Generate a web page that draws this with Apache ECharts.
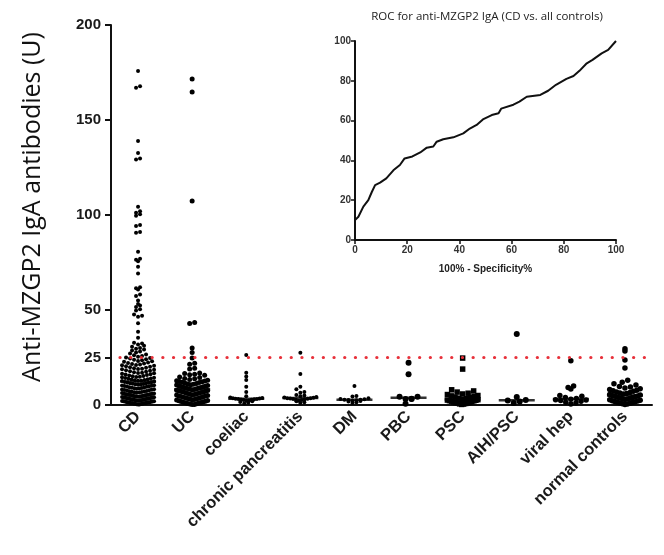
<!DOCTYPE html>
<html>
<head>
<meta charset="utf-8">
<title>Anti-MZGP2 IgA</title>
<script src="https://cdn.jsdelivr.net/npm/echarts@6.0.0/dist/echarts.min.js"></script>
<style>
    html, body { margin: 0; padding: 0; background: #fff; }
    #chart1 { width: 664px; height: 555px; }
</style>
</head>
<body>
<div id="chart1"></div>
<script type="text/javascript">
    // groups on the x axis
    var categories = ['CD', 'UC', 'coeliac', 'chronic pancreatitis', 'DM', 'PBC', 'PSC', 'AIH/PSC', 'viral hep', 'normal controls'];

    // antibody values (U), one array per group
    var cdValues = [175.8, 167.8, 167.0, 139.0, 132.6, 129.8, 129.2,
        104.4, 102.0, 101.2, 100.4, 99.6, 94.7, 94.2, 91.0, 90.6,
        80.7, 77.0, 76.4, 75.6, 72.8, 69.2,
        62.0, 61.4, 60.8, 58.2, 57.4, 55.0, 53.2, 52.4, 51.6, 50.4, 49.8, 47.6, 47.0, 46.4, 43.0, 38.6, 35.4,
        32.8, 32.4, 31.9, 31.2, 30.6, 30.0, 29.6,
        29.2, 28.7, 28.2, 27.6, 27.1, 26.6, 26.2, 25.8, 25.4,
        25.0, 24.8, 24.5, 24.1, 23.8, 23.5, 23.2, 23.0, 22.7, 22.4, 22.1, 21.8, 21.6, 21.3, 21.1,
        20.9, 20.6, 20.4, 20.1, 19.9, 19.6, 19.4, 19.1, 19.0, 18.8, 18.5, 18.3, 18.0, 17.8, 17.5, 17.3, 17.0, 16.9,
        16.7, 16.5, 16.2, 16.0, 15.8, 15.5, 15.3, 15.1, 14.9, 14.8,
        14.6, 14.4, 14.2, 14.0, 13.8, 13.6, 13.4, 13.2, 13.0, 12.8, 12.7,
        12.6, 12.4, 12.1, 12.0, 11.9, 11.7, 11.5, 11.4, 11.2, 11.0, 10.9, 10.8, 10.6, 10.4, 10.3, 10.1, 10.0, 9.9,
        9.7, 9.6, 9.4, 9.2, 9.1, 9.0, 8.8, 8.7, 8.5, 8.3, 8.2, 8.0, 7.9, 7.8, 7.6, 7.4, 7.3, 7.1, 7.0, 6.9,
        6.7, 6.6, 6.4, 6.3, 6.1, 6.0, 5.9, 5.8, 5.8, 5.7,
        5.6, 5.5, 5.4, 5.3, 5.2, 5.2, 5.1, 5.0, 4.9, 4.8, 4.7, 4.6, 4.6, 4.5, 4.4, 4.3, 4.2, 4.1, 4.0, 4.0,
        3.9, 3.8, 3.7, 3.6, 3.5, 3.5, 3.4, 3.3, 3.2, 3.1, 3.0, 3.0, 2.9, 2.8, 2.7, 2.6, 2.5, 2.5, 2.4, 2.3,
        2.2, 2.1, 2.0, 2.0, 1.9, 1.8, 1.7, 1.6, 1.5, 1.5, 1.4, 1.3, 1.2, 1.1, 1.0, 1.0, 0.9, 0.8, 0.7, 0.6,
        0.5, 0.4, 0.3, 0.2];
    var ucValues = [171.6, 164.7, 107.4, 43.4, 42.9, 30.0, 27.6, 24.8, 22.0, 21.4, 19.4, 18.9,
        16.9, 16.6, 16.2, 15.9, 15.6, 14.8, 14.5, 14.0, 13.8, 13.4, 13.0,
        12.8, 12.6, 12.4, 12.2, 12.0, 11.8, 11.5, 11.3, 11.1, 10.9, 10.7,
        10.5, 10.3, 10.1, 9.9, 9.8, 9.6, 9.4, 9.2, 9.0, 8.9, 8.7, 8.5, 8.3, 8.2, 8.0, 7.8, 7.6, 7.5, 7.3, 7.1,
        6.9, 6.8, 6.6, 6.4, 6.2, 6.1, 5.9, 5.7, 5.5, 5.4, 5.2, 5.0, 4.8, 4.7, 4.5, 4.3, 4.1, 4.0, 3.8, 3.6,
        3.4, 3.3, 3.1, 2.9, 2.7, 2.6, 2.4, 2.2, 2.0, 1.9, 1.7, 1.5, 1.3, 1.2, 1.0, 0.8, 0.6, 0.5, 0.3, 0.2];
    var coeliacValues = [26.3, 17.0, 15.0, 13.2, 9.6, 6.8, 4.6, 4.0, 3.7, 3.5, 3.4, 3.3, 3.2, 3.1, 3.0, 2.9,
        2.8, 2.6, 2.4, 2.2, 2.0, 1.6, 1.2, 0.8];
    var pancreatitisValues = [27.5, 16.3, 9.6, 8.3, 6.8, 6.5, 5.3, 5.0, 4.6, 4.2, 4.0, 3.8, 3.6, 3.5, 3.4, 3.3,
        3.2, 3.0, 2.8, 2.6, 2.3, 2.0, 1.5, 1.0];
    var dmValues = [10.0, 4.8, 4.5, 3.6, 3.2, 3.0, 2.8, 2.7, 2.6, 2.5, 2.3, 2.1, 1.8, 1.4, 1.0];
    var pbcValues = [22.3, 16.2, 4.4, 4.3, 3.3, 3.2, 3.1, 0.6];
    var pscValues = [24.7, 18.9, 8.0, 7.4, 6.8, 6.2, 5.8, 5.5, 5.0, 4.8, 4.5, 4.2, 4.0, 3.6, 3.3, 3.0,
        2.8, 2.6, 2.5, 2.3, 2.2, 2.0, 1.8, 1.6, 1.4, 1.2, 1.1, 1.0, 0.8, 0.6, 0.5, 0.3];
    var aihValues = [37.4, 4.2, 2.6, 2.4, 1.8, 1.0];
    var viralValues = [23.3, 10.0, 9.2, 8.4, 5.0, 4.6, 4.0, 3.4, 3.0, 2.8, 2.6, 2.4, 2.0, 1.5, 1.0, 0.5];
    var normalValues = [29.6, 28.4, 23.7, 19.5, 13.0, 12.0, 11.2, 10.5, 9.8, 9.5, 9.0, 8.6, 8.2, 7.8, 7.5, 7.2,
        6.9, 6.6, 6.3, 6.0, 5.8, 5.5, 5.2, 5.0, 4.8, 4.6, 4.3, 4.1, 3.9, 3.7, 3.5, 3.3, 3.1, 2.9, 2.7, 2.5,
        2.3, 2.1, 1.9, 1.7, 1.5, 1.3, 1.1, 0.9, 0.7, 0.5, 0.3];

    var groupValues = [cdValues, ucValues, coeliacValues, pancreatitisValues, dmValues,
        pbcValues, pscValues, aihValues, viralValues, normalValues];

    var yTicks = [0, 25, 50, 100, 150, 200];
    var cutoff = 25;

    // ROC curve (inset)
    var rocX = [0, 0, 0.3, 1.3, 3.2, 5.1, 6.4, 7.7, 9.6, 12, 14.7, 17.2, 19, 22, 25, 27.5, 30, 31.3, 33.8,
        37.7, 41.5, 44, 46.6, 49, 52.4, 55, 56, 60.7, 63, 65.8, 71, 74, 77, 81, 83.7, 86, 88.8, 91, 94.5, 97, 100];
    var rocY = [0, 10, 10.8, 11.7, 16.8, 20, 24, 27.6, 28.8, 31, 35, 37.7, 41, 42, 44, 46.4, 47, 49.4, 50.6,
        51.6, 53.6, 56, 57.8, 60.6, 62.8, 63.7, 66, 68, 69.5, 72, 72.9, 75, 78, 81, 82.4, 85, 88.8, 90.5, 93.8, 95.5, 100];
    var rocTicks = [0, 20, 40, 60, 80, 100];

    // look of each column
    var dotSize = [4, 5, 4, 4, 4, 6, 5.5, 6, 5.5, 5.5];
    var dotSymbol = ['circle', 'circle', 'circle', 'circle', 'circle', 'circle', 'rect', 'circle', 'circle', 'circle'];

    var W = 664, H = 555;
    var mainGrid = {left: 111, right: 12, top: 25, bottom: 150};
    var pxPerUnit = (H - mainGrid.top - mainGrid.bottom) / 200;
    var catPx = (W - mainGrid.left - mainGrid.right) / categories.length;
    var colWidth = 36;

    // scatter dot plot layout: points in the same row are spread sideways
    function swarm(vals, idx, size, maxW) {
        var bin = size / pxPerUnit;
        var rows = {};
        vals.slice().sort(function (a, b) { return a - b; }).forEach(function (v) {
            var k = Math.floor(v / bin);
            (rows[k] = rows[k] || []).push(v);
        });
        var pts = [];
        Object.keys(rows).forEach(function (k) {
            var row = rows[k], n = row.length;
            var step = n > 1 ? Math.min(size, (maxW - size) / (n - 1)) : 0;
            var shift = (Math.floor(n / 2) - Math.floor((n - 1) / 2)) / 2;
            row.forEach(function (v, i) {
                var slot = i === 0 ? 0 : (i % 2 ? (i + 1) / 2 : -i / 2);
                pts.push([idx + (slot - shift) * step / catPx, v]);
            });
        });
        return pts;
    }

    function median(vals) {
        var s = vals.slice().sort(function (a, b) { return a - b; });
        var m = Math.floor(s.length / 2);
        return s.length % 2 ? s[m] : (s[m - 1] + s[m]) / 2;
    }

    var series = [];
    groupValues.forEach(function (vals, i) {
        series.push({
            type: 'scatter',
            xAxisIndex: 1,
            yAxisIndex: 0,
            symbol: dotSymbol[i],
            symbolSize: dotSize[i],
            itemStyle: {color: '#000', opacity: 1},
            silent: true,
            z: 3,
            data: swarm(vals, i, dotSize[i], colWidth)
        });
    });

    // median bars + cut-off line
    series.push({
        type: 'scatter',
        xAxisIndex: 1,
        yAxisIndex: 0,
        symbol: 'rect',
        symbolSize: [colWidth, 2.5],
        itemStyle: {color: '#000'},
        silent: true,
        z: 4,
        data: groupValues.map(function (v, i) { return [i, median(v)]; }),
        markLine: {
            silent: true,
            symbol: ['none', 'none'],
            label: {show: false},
            lineStyle: {color: '#e8303a', width: 3.2, type: [0.1, 10.6], cap: 'round', dashOffset: -9},
            data: [{yAxis: cutoff}]
        }
    });

    series.push({
        type: 'line',
        xAxisIndex: 2,
        yAxisIndex: 1,
        showSymbol: false,
        silent: true,
        lineStyle: {color: '#111', width: 2},
        data: rocX.map(function (x, i) { return [x, rocY[i]]; })
    });

    var boldLabel = {fontFamily: 'Liberation Sans', fontWeight: 'bold', color: '#1a1a1a'};

    var myChart1 = echarts.init(document.getElementById('chart1'));
    myChart1.setOption({
        animation: false,
        backgroundColor: '#fff',
        title: {
            text: 'ROC for anti-MZGP2 IgA (CD vs. all controls)',
            left: 482,
            top: 6,
            textAlign: 'center',
            textStyle: {fontFamily: 'Open Sans', fontSize: 11.5, fontWeight: 'normal', color: '#222'}
        },
        grid: [
            {left: mainGrid.left, right: mainGrid.right, top: mainGrid.top, bottom: mainGrid.bottom},
            {left: 355, right: 48, top: 41, bottom: 315}
        ],
        xAxis: [{
            type: 'category',
            gridIndex: 0,
            data: categories,
            axisLine: {lineStyle: {color: '#111', width: 2}},
            axisTick: {alignWithLabel: true, length: 6, lineStyle: {color: '#111', width: 2}},
            axisLabel: Object.assign({fontSize: 16.5, rotate: 45, margin: 9, interval: 0}, boldLabel)
        }, {
            type: 'value',
            gridIndex: 0,
            show: false,
            min: -0.5,
            max: categories.length - 0.5
        }, {
            type: 'value',
            gridIndex: 1,
            min: 0,
            max: 100,
            interval: 20,
            name: '100% - Specificity%',
            nameLocation: 'middle',
            nameGap: 24,
            nameTextStyle: {fontFamily: 'Liberation Sans', fontWeight: 'bold', fontSize: 10, color: '#222'},
            splitLine: {show: false},
            axisLine: {lineStyle: {color: '#111', width: 2}},
            axisTick: {length: 4, lineStyle: {color: '#111', width: 1.5}},
            axisLabel: Object.assign({fontSize: 10, margin: 5}, boldLabel, {color: '#333'})
        }],
        yAxis: [{
            type: 'value',
            gridIndex: 0,
            min: 0,
            max: 200,
            name: 'Anti-MZGP2 IgA antibodies (U)',
            nameLocation: 'middle',
            nameGap: 66,
            nameTextStyle: {fontFamily: 'Open Sans', fontSize: 25, color: '#111', padding: [0, 0, 0, 16]},
            splitLine: {show: false},
            axisLine: {show: true, onZero: false, lineStyle: {color: '#111', width: 2}},
            axisTick: {show: true, length: 6, customValues: yTicks, lineStyle: {color: '#111', width: 2}},
            axisLabel: Object.assign({fontSize: 15, margin: 10, customValues: yTicks}, boldLabel)
        }, {
            type: 'value',
            gridIndex: 1,
            min: 0,
            max: 100,
            interval: 20,
            splitLine: {show: false},
            axisLine: {show: true, onZero: false, lineStyle: {color: '#111', width: 2}},
            axisTick: {show: true, length: 4, lineStyle: {color: '#111', width: 1.5}},
            axisLabel: Object.assign({fontSize: 10, margin: 4}, boldLabel, {color: '#333'})
        }],
        series: series
    });
</script>
</body>
</html>
